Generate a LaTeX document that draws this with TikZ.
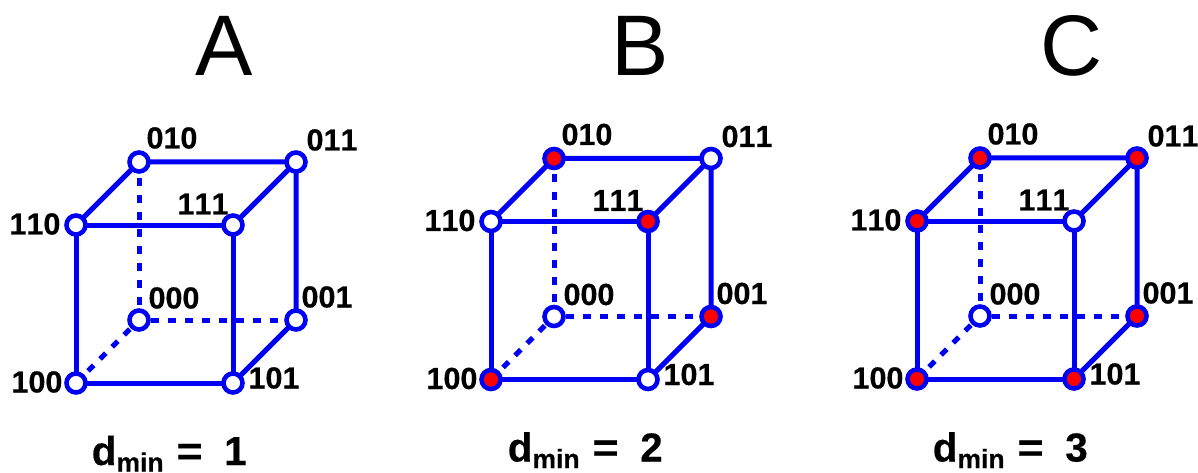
\documentclass[tikz,border=0pt]{standalone}
\usepackage{fontspec}
\setmainfont[Kerning=Off]{Liberation Sans}
\newfontfamily\heavy[Kerning=Off,BoldFont={Liberation Sans Bold},BoldFeatures={FakeBold=0.4}]{Liberation Sans}
\definecolor{cubeblue}{RGB}{0,0,245}
\tikzset{
  vtx/.style={circle,draw=cubeblue,line width=4.6pt,minimum size=19pt,inner sep=0pt},
  openv/.style={vtx,fill=white},
  redv/.style={vtx,fill=red},
  edge/.style={draw=cubeblue,line width=5pt},
  hidden/.style={edge,dash pattern=on 8pt off 9pt,dash phase=#1},
  lab/.style={inner sep=0pt,font=\fontsize{30.5}{32}\heavy\bfseries},
  title/.style={inner sep=0pt,font=\fontsize{86}{90}\selectfont},
  dist/.style={inner sep=0pt,anchor=base,font=\fontsize{40.5}{44}\heavy\bfseries}
}
\newcommand{\submin}{\raisebox{-6.5pt}{\fontsize{26.5}{28}\heavy\bfseries min}}
\newcommand{\dminis}[1]{d\submin\hspace{13pt}\scalebox{1.1}[1]{=}\hspace{21.6pt}#1}
% #1 prefix, #2 #3 shift, then eight vertex styles (000 001 010 011 100 101 110 111)
\newcommand{\drawcube}[7]{%
\begin{scope}[shift={(#2,#3)}]
  \coordinate (#1c110) at (76,225);
  \coordinate (#1c100) at (76,383);
  \coordinate (#1c111) at (233,225);
  \coordinate (#1c101) at (233,383);
  \coordinate (#1c010) at (139,162);
  \coordinate (#1c011) at (296,162);
  \coordinate (#1c000) at (139,320);
  \coordinate (#1c001) at (296,320);
  \draw[hidden=1pt] (#1c010) -- (#1c000);
  \draw[hidden=5pt] (#1c000) -- (#1c001);
  \draw[hidden=4pt] (#1c000) -- (#1c100);
  \draw[edge] (#1c110) -- (#1c111) -- (#1c101) -- (#1c100) -- cycle;
  \draw[edge] (#1c010) -- (#1c011) -- (#1c001) -- (#1c101);
  \draw[edge] (#1c110) -- (#1c010);
  \draw[edge] (#1c111) -- (#1c011);
  \node[#4] (#1v000) at (#1c000) {};
  \node[#5] (#1v001) at (#1c001) {};
  \node[#6] (#1v010) at (#1c010) {};
  \node[#7] (#1v011) at (#1c011) {};
  \drawcubeb{#1}%
}
\newcommand{\drawcubeb}[5]{%
  \node[#2] (#1v100) at (#1c100) {};
  \node[#3] (#1v101) at (#1c101) {};
  \node[#4] (#1v110) at (#1c110) {};
  \node[#5] (#1v111) at (#1c111) {};
  \node[lab] (#1l010) at (172,138) {010};
  \node[lab] (#1l011) at (332,140) {011};
  \node[lab] (#1l110) at (35,224) {110};
  \node[lab] (#1l111) at (203,204) {111};
  \node[lab] (#1l000) at (174,298) {000};
  \node[lab] (#1l001) at (327,297) {001};
  \node[lab] (#1l100) at (37,382) {100};
  \node[lab] (#1l101) at (274,378) {101};
\end{scope}
}
\begin{document}
\begin{tikzpicture}[x=1pt,y=-1pt]
\useasboundingbox (0,0) rectangle (1198,473);
\node[title] (ta) at (224,46) {A};
\node[title] (tb) at (640,46) {B};
\node[title] (tc) at (1072,46) {C};
\drawcube{a}{0}{0}{openv}{openv}{openv}{openv}{openv}{openv}{openv}{openv}
\drawcube{b}{415}{-3.5}{openv}{redv}{redv}{openv}{redv}{openv}{openv}{redv}
\drawcube{c}{841}{-4}{openv}{redv}{redv}{redv}{redv}{redv}{redv}{openv}
\node[dist] (da) at (169.25,465) {\dminis{1}};
\node[dist] (db) at (585.25,461.5) {\dminis{2}};
\node[dist] (dc) at (1010.25,461.5) {\dminis{3}};
\end{tikzpicture}
\end{document}
